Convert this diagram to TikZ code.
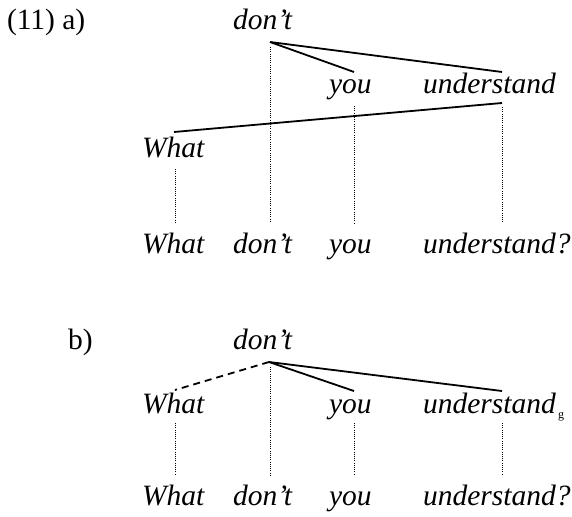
\documentclass[tikz,border=0pt]{standalone}
\usepackage{fontspec}
\setmainfont{Liberation Serif}
\begin{document}
\begin{tikzpicture}[x=1pt,y=-1pt,
  word/.style={inner sep=0pt,outer sep=0pt,anchor=base west,font=\fontsize{29.5}{34}\selectfont\itshape},
  lbl/.style={inner sep=0pt,outer sep=0pt,anchor=base west,font=\fontsize{29.5}{34}\selectfont},
  branch/.style={line width=1.8pt},
  assoc/.style={line width=1pt,dash pattern=on 1pt off 1.2pt},
  dep/.style={line width=1.8pt,dash pattern=on 7pt off 5pt}]
\useasboundingbox (0,0) rectangle (572,516);
% ---------- (11) a) ----------
\node[lbl] (la) at (7,30) {(11) a)};
\node[word] (aDont) at (233,30) {don’t};
\node[word] (aYou) at (329,94) {you};
\node[word] (aUnd) at (423,94) {understand};
\node[word] (aWhat) at (142,157) {What};
\node[word] (aW1) at (142,253) {What};
\node[word] (aW2) at (233,253) {don’t};
\node[word] (aW3) at (329,253) {you};
\node[word] (aW4) at (423,253) {understand?};
\coordinate (aRoot) at (270,42);
\coordinate (aYouT) at (354,72);
\coordinate (aUndT) at (502,72);
\coordinate (aUndB) at (502,103);
\coordinate (aWhatT) at (174,132);
\draw[branch] (aRoot) -- (aYouT);
\draw[branch] (aRoot) -- (aUndT);
\draw[branch] (aUndB) -- (aWhatT);
\coordinate (aD1) at (270,47);   \coordinate (aD2) at (270,223);
\coordinate (aY1) at (354,106);  \coordinate (aY2) at (354,223);
\coordinate (aU1) at (502,107);  \coordinate (aU2) at (502,223);
\coordinate (aH1) at (175,169);  \coordinate (aH2) at (175,223);
\draw[assoc] (aD1) -- (aD2);
\draw[assoc] (aY1) -- (aY2);
\draw[assoc] (aU1) -- (aU2);
\draw[assoc] (aH1) -- (aH2);
% ---------- b) ----------
\node[lbl] (lb) at (68,349) {b)};
\node[word] (bDont) at (233,349) {don’t};
\node[word] (bWhat) at (142,413) {What};
\node[word] (bYou) at (329,413) {you};
\node[word] (bUnd) at (423,413) {understand};
\node[inner sep=0pt,anchor=base west,font=\fontsize{12}{14}\selectfont] (bG) at (558,418) {g};
\node[word] (bW1) at (142,505) {What};
\node[word] (bW2) at (233,505) {don’t};
\node[word] (bW3) at (329,505) {you};
\node[word] (bW4) at (423,505) {understand?};
\coordinate (bRoot) at (269,362);
\coordinate (bWhatT) at (175,390);
\coordinate (bYouT) at (354,391);
\coordinate (bUndT) at (502,391);
\draw[dep] (bRoot) -- (bWhatT);
\draw[branch] (bRoot) -- (bYouT);
\draw[branch] (bRoot) -- (bUndT);
\coordinate (bD1) at (270,367);  \coordinate (bD2) at (270,475);
\coordinate (bY1) at (354,423);  \coordinate (bY2) at (354,475);
\coordinate (bU1) at (502,423);  \coordinate (bU2) at (502,475);
\coordinate (bH1) at (175,423);  \coordinate (bH2) at (175,475);
\draw[assoc] (bD1) -- (bD2);
\draw[assoc] (bY1) -- (bY2);
\draw[assoc] (bU1) -- (bU2);
\draw[assoc] (bH1) -- (bH2);
\end{tikzpicture}
\end{document}
